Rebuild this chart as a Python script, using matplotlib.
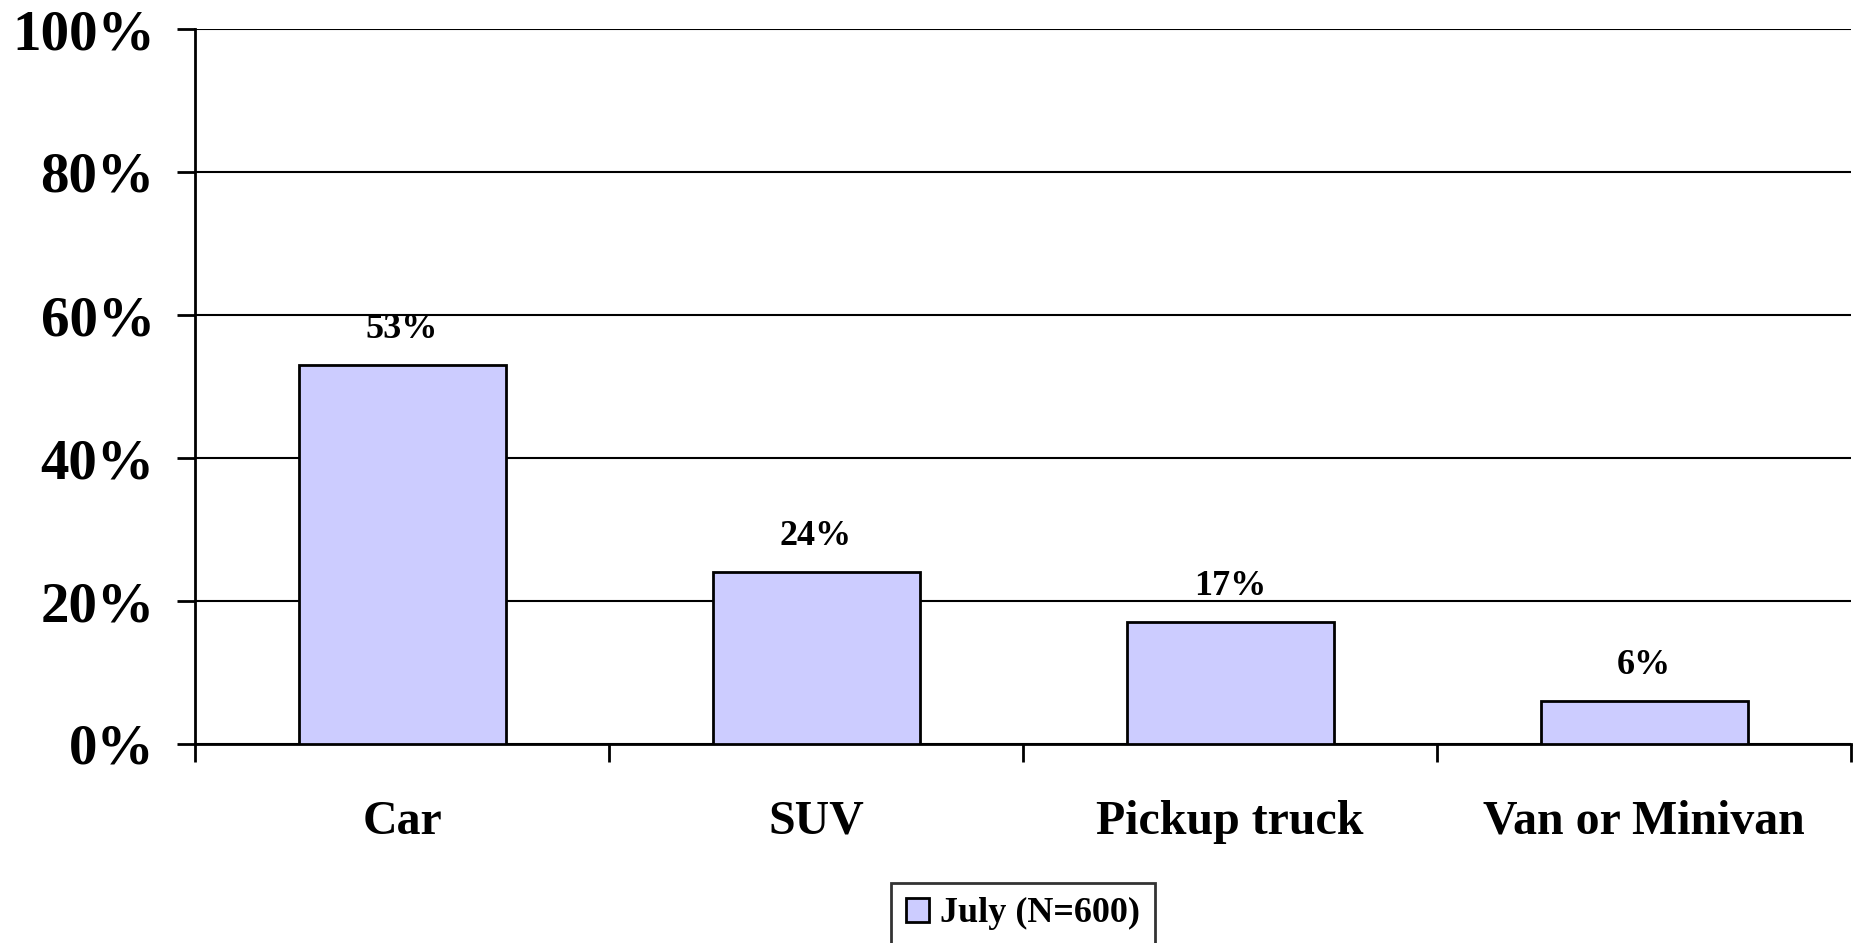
import matplotlib
matplotlib.use('Agg')
import matplotlib.pyplot as plt
from matplotlib.ticker import FixedLocator, FuncFormatter, NullFormatter

# Data
categories = ['Car', 'SUV', 'Pickup truck', 'Van or Minivan']
values = [53, 24, 17, 6]
series_name = 'July (N=600)'
y_ticks = [0, 20, 40, 60, 80, 100]

plt.rcParams['font.family'] = ['Liberation Serif', 'DejaVu Serif']
plt.rcParams['font.weight'] = 'bold'

fig = plt.figure(figsize=(18.6, 9.43), dpi=100)
W, H = 1860, 943
left, right, top, bottom = 195, 1851, 29, 744
ax = fig.add_axes([left / W, 1 - bottom / H, (right - left) / W, (bottom - top) / H])

x = list(range(len(categories)))
bars = ax.bar(x, values, width=0.5, color='#CCCCFF', edgecolor='black',
              linewidth=2, label=series_name, zorder=3)

for b, v in zip(bars, values):
    ax.annotate(f'{v}%', (b.get_x() + b.get_width() / 2, v),
                xytext=(0, 14), textcoords='offset points',
                ha='center', va='bottom', fontsize=26, fontweight='bold')

ax.set_xlim(-0.5, len(categories) - 0.5)
ax.set_ylim(0, 100)

# y axis
ax.set_yticks(y_ticks)
ax.yaxis.set_major_formatter(FuncFormatter(lambda v, p: f'{int(v)}%'))
ax.tick_params(axis='y', which='major', length=13, width=2, labelsize=41, pad=16)
ax.yaxis.grid(True, color='black', linewidth=1.5, zorder=0)

# x axis: ticks at boundaries, labels at centres
ax.xaxis.set_major_locator(FixedLocator([i - 0.5 for i in range(len(categories) + 1)]))
ax.xaxis.set_major_formatter(NullFormatter())
ax.xaxis.set_minor_locator(FixedLocator(x))
ax.set_xticklabels(categories, minor=True)
ax.tick_params(axis='x', which='major', length=13, width=2)
ax.tick_params(axis='x', which='minor', length=0, labelsize=34.5, pad=40)

for s in ['top', 'right']:
    ax.spines[s].set_visible(False)
for s in ['left', 'bottom']:
    ax.spines[s].set_linewidth(2)
ax.set_axisbelow(True)

leg = fig.legend(handles=[bars], labels=[series_name], loc='upper center',
                 bbox_to_anchor=(1023 / W, 1 - 883 / H), fontsize=26,
                 frameon=True, fancybox=False, edgecolor='black',
                 handlelength=0.65, handleheight=0.65, handletextpad=0.3,
                 borderpad=0.4, borderaxespad=0)
leg.get_frame().set_linewidth(2)
for t in leg.get_texts():
    t.set_fontweight('bold')

fig.savefig('out.png', dpi=100)
